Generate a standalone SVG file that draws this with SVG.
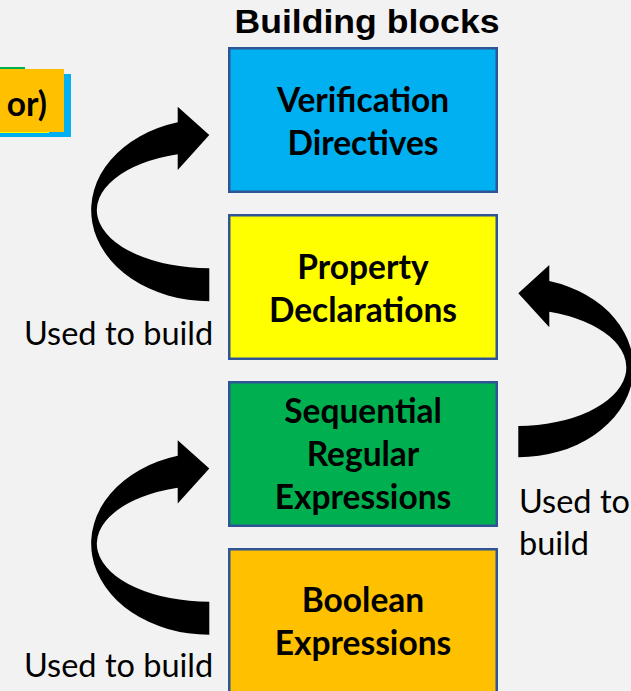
<svg xmlns="http://www.w3.org/2000/svg" width="631" height="691" viewBox="0 0 631 691">
  <style>
    .block { stroke: #2F5597; stroke-width: 2.5; }
    .label { font-family: Lato, "Open Sans", "Liberation Sans", sans-serif; font-weight: bold; font-size: 33.5px; fill: #000; text-anchor: middle; }
    .note { font-family: Lato, "Open Sans", "Liberation Sans", sans-serif; font-size: 32.5px; fill: #000; }
    .title { font-family: "Liberation Sans", Arial, sans-serif; font-weight: bold; font-size: 33px; fill: #000; text-anchor: middle; }
    .arrow { fill: #000; }
  </style>

  <rect width="631" height="691" fill="#F2F2F2"/>

  <!-- stacked cards at the top-left edge -->
  <g id="stacked-cards">
    <rect x="-20" y="67" width="45" height="60" fill="#00B050"/>
    <rect x="-20" y="74" width="91" height="63" fill="#00B0F0"/>
    <rect x="-20" y="72" width="69" height="61" fill="#FFFF00"/>
    <rect x="-20" y="69" width="84" height="63" fill="#FFC000"/>
    <text class="label" x="47" y="116" style="text-anchor:end">or)</text>
  </g>

  <text id="title" class="title" x="367" y="33" textLength="265" lengthAdjust="spacingAndGlyphs">Building blocks</text>

  <g id="verification-directives">
    <rect class="block" x="229.25" y="48.25" width="267.5" height="143.5" fill="#00B0F0"/>
    <text class="label" x="363" y="111.5">Verification</text>
    <text class="label" x="363" y="155">Directives</text>
  </g>

  <g id="property-declarations">
    <rect class="block" x="229.25" y="215.25" width="267.5" height="143.5" fill="#FFFF00"/>
    <text class="label" x="363" y="278.5">Property</text>
    <text class="label" x="363" y="322">Declarations</text>
  </g>

  <g id="sequential-regular-expressions">
    <rect class="block" x="229.25" y="382.25" width="267.5" height="143.5" fill="#00B050"/>
    <text class="label" x="363" y="423">Sequential</text>
    <text class="label" x="363" y="466">Regular</text>
    <text class="label" x="363" y="508.5">Expressions</text>
  </g>

  <g id="boolean-expressions">
    <rect class="block" x="229.25" y="549.25" width="267.5" height="143.5" fill="#FFC000"/>
    <text class="label" x="363" y="612">Boolean</text>
    <text class="label" x="363" y="655">Expressions</text>
  </g>

  <!-- curved "used to build" arrows -->
  <g id="connectors">
    <path class="arrow" d="M177.7,122.3 L177.7,106.7 L209.3,135 L177.7,170 L177.7,154.3 A113,58.2 0 0 0 209.3,268.3 L209.3,301.2 A118,91.1 0 0 1 177.7,122.3 Z"/>
    <path class="arrow" transform="translate(0,333.5)" d="M177.7,122.3 L177.7,106.7 L209.3,135 L177.7,170 L177.7,154.3 A113,58.2 0 0 0 209.3,268.3 L209.3,301.2 A118,91.1 0 0 1 177.7,122.3 Z"/>
    <path class="arrow" d="M549.3,281 L549.3,265 L518.3,293.3 L549.3,327.3 L549.3,311.7 A110,58.5 0 0 1 518.3,426 L518.3,457.3 A115,89.8 0 0 0 549.3,281 Z"/>
    <text class="note" x="24" y="345">Used to build</text>
    <text class="note" x="24" y="677">Used to build</text>
    <text class="note" x="519" y="513">Used to</text>
    <text class="note" x="519" y="555">build</text>
  </g>
</svg>
